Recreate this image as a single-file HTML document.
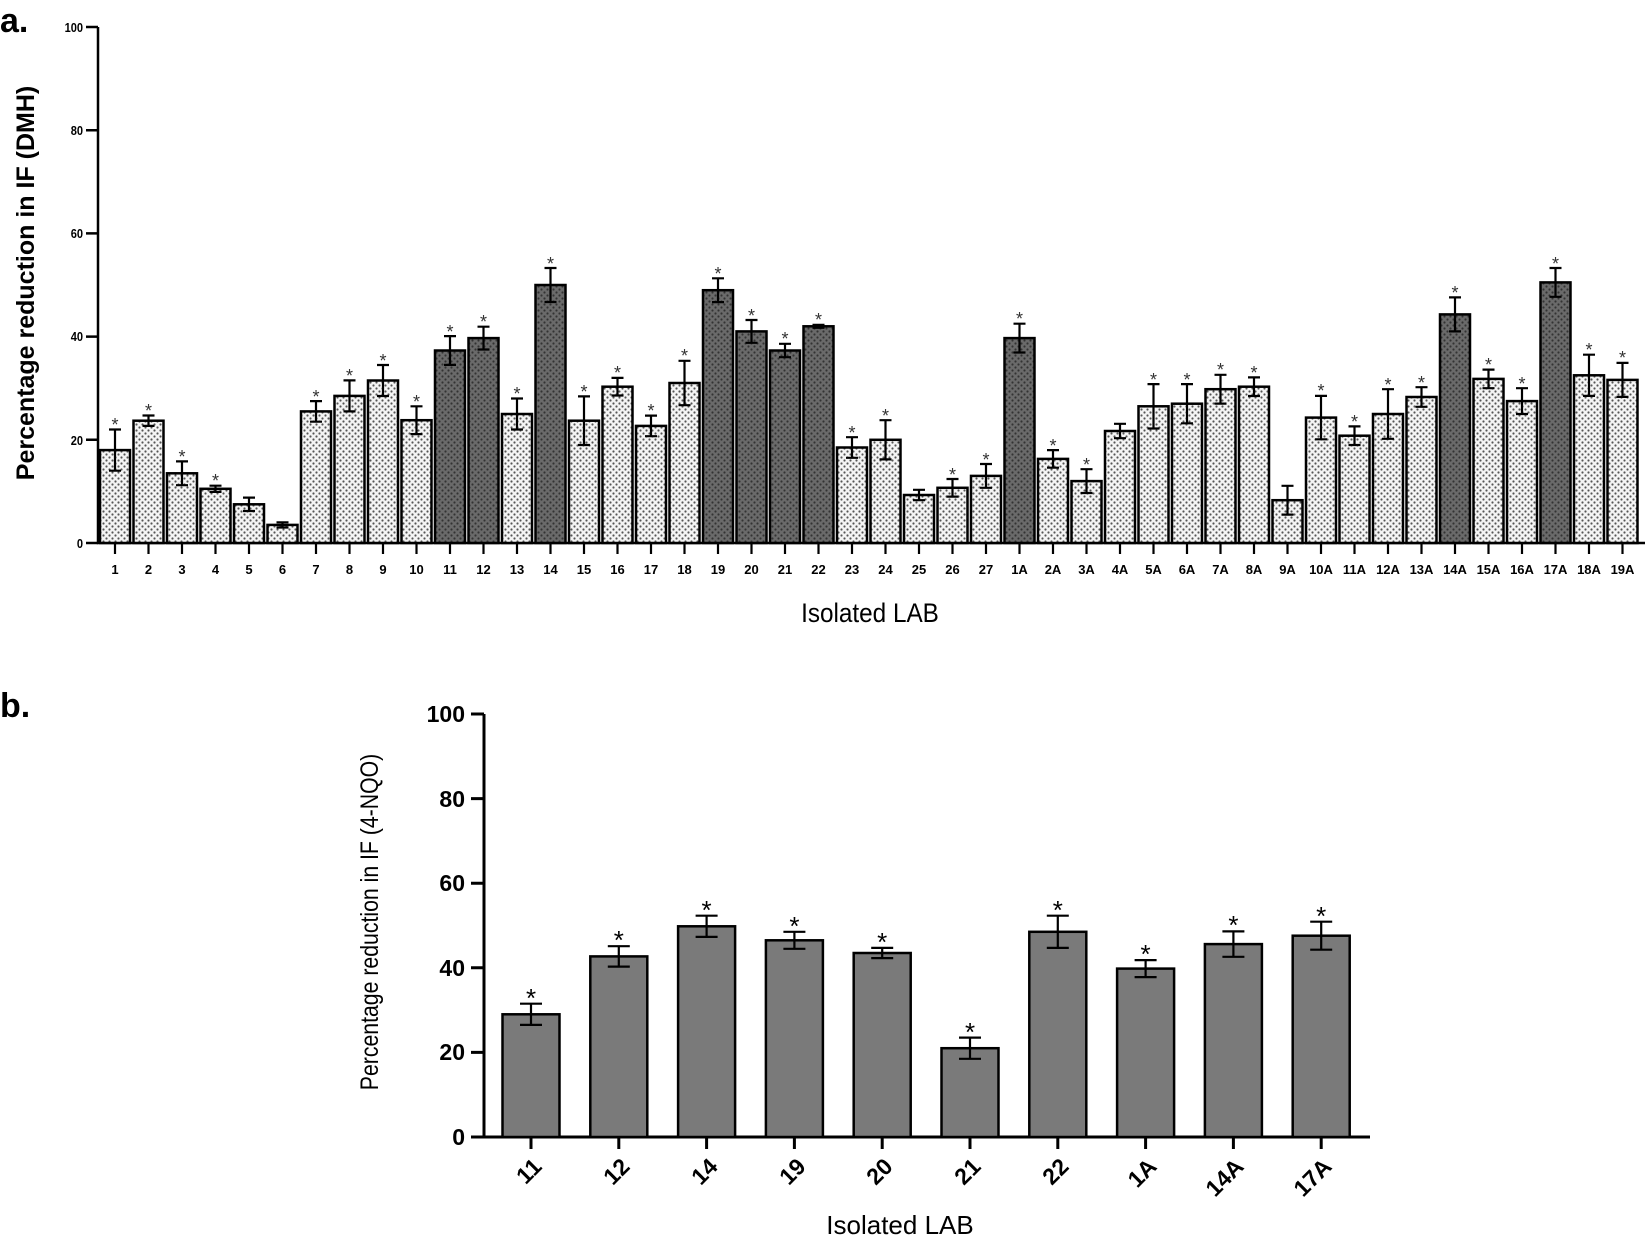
<!DOCTYPE html>
<html><head><meta charset="utf-8"><style>html,body{margin:0;padding:0;background:#fff;}svg{display:block}</style></head>
<body>
<svg width="1645" height="1237" viewBox="0 0 1645 1237" xmlns="http://www.w3.org/2000/svg" font-family="Liberation Sans, Arial, sans-serif">
<defs>
<pattern id="pl" width="6" height="6" patternUnits="userSpaceOnUse"><rect width="6" height="6" fill="#f4f4f4"/><circle cx="1.5" cy="1.5" r="1.1" fill="#555"/><circle cx="4.5" cy="4.5" r="1.1" fill="#555"/></pattern>
<pattern id="pd" width="6" height="6" patternUnits="userSpaceOnUse"><rect width="6" height="6" fill="#6a6a6a"/><circle cx="1.5" cy="1.5" r="1.1" fill="#333"/><circle cx="4.5" cy="4.5" r="1.1" fill="#333"/></pattern>
</defs>
<text x="0" y="32" font-family="Liberation Sans, sans-serif" font-weight="bold" font-size="34">a.</text>
<text x="0" y="717" font-family="Liberation Sans, sans-serif" font-weight="bold" font-size="34">b.</text>

<g stroke="#000" stroke-width="2.5" fill="none">
<path d="M98 27 V543 H1645"/>
<path d="M86 27 H98 M86 130.2 H98 M86 233.4 H98 M86 336.6 H98 M86 439.8 H98 M86 543 H98"/>
</g>
<g font-size="13" font-weight="bold" text-anchor="end" fill="#000">
<text x="83" y="32" transform="translate(83,0) scale(0.85,1) translate(-83,0)">100</text><text x="83" y="135" transform="translate(83,0) scale(0.85,1) translate(-83,0)">80</text><text x="83" y="238" transform="translate(83,0) scale(0.85,1) translate(-83,0)">60</text><text x="83" y="341" transform="translate(83,0) scale(0.85,1) translate(-83,0)">40</text><text x="83" y="445" transform="translate(83,0) scale(0.85,1) translate(-83,0)">20</text><text x="83" y="548" transform="translate(83,0) scale(0.85,1) translate(-83,0)">0</text>
</g>
<text transform="translate(34,283) rotate(-90)" text-anchor="middle" font-size="25" font-weight="bold">Percentage reduction in IF (DMH)</text>
<text x="870" y="622" text-anchor="middle" font-size="27" transform="translate(870,0) scale(0.9,1) translate(-870,0)">Isolated LAB</text>

<g stroke="#000" stroke-width="2.5">
<rect x="100" y="450.1" width="30" height="92.9" fill="url(#pl)"/>
<rect x="133.5" y="420.7" width="30" height="122.3" fill="url(#pl)"/>
<rect x="167" y="473.3" width="30" height="69.7" fill="url(#pl)"/>
<rect x="200.5" y="488.8" width="30" height="54.2" fill="url(#pl)"/>
<rect x="234" y="504.3" width="30" height="38.7" fill="url(#pl)"/>
<rect x="267.5" y="524.9" width="30" height="18.1" fill="url(#pl)"/>
<rect x="301" y="411.4" width="30" height="131.6" fill="url(#pl)"/>
<rect x="334.5" y="395.9" width="30" height="147.1" fill="url(#pl)"/>
<rect x="368" y="380.5" width="30" height="162.5" fill="url(#pl)"/>
<rect x="401.5" y="420.2" width="30" height="122.8" fill="url(#pl)"/>
<rect x="435" y="350.5" width="30" height="192.5" fill="url(#pd)"/>
<rect x="468.5" y="338.1" width="30" height="204.9" fill="url(#pd)"/>
<rect x="502" y="414" width="30" height="129" fill="url(#pl)"/>
<rect x="535.5" y="285" width="30" height="258" fill="url(#pd)"/>
<rect x="569" y="420.7" width="30" height="122.3" fill="url(#pl)"/>
<rect x="602.5" y="386.7" width="30" height="156.3" fill="url(#pl)"/>
<rect x="636" y="425.9" width="30" height="117.1" fill="url(#pl)"/>
<rect x="669.5" y="383" width="30" height="160" fill="url(#pl)"/>
<rect x="703" y="290.2" width="30" height="252.8" fill="url(#pd)"/>
<rect x="736.5" y="331.4" width="30" height="211.6" fill="url(#pd)"/>
<rect x="770" y="350.5" width="30" height="192.5" fill="url(#pd)"/>
<rect x="803.5" y="326.3" width="30" height="216.7" fill="url(#pd)"/>
<rect x="837" y="447.5" width="30" height="95.5" fill="url(#pl)"/>
<rect x="870.5" y="439.8" width="30" height="103.2" fill="url(#pl)"/>
<rect x="904" y="495" width="30" height="48" fill="url(#pl)"/>
<rect x="937.5" y="487.8" width="30" height="55.2" fill="url(#pl)"/>
<rect x="971" y="475.9" width="30" height="67.1" fill="url(#pl)"/>
<rect x="1004.5" y="338.1" width="30" height="204.9" fill="url(#pd)"/>
<rect x="1038" y="458.9" width="30" height="84.1" fill="url(#pl)"/>
<rect x="1071.5" y="481.1" width="30" height="61.9" fill="url(#pl)"/>
<rect x="1105" y="431" width="30" height="112" fill="url(#pl)"/>
<rect x="1138.5" y="406.3" width="30" height="136.7" fill="url(#pl)"/>
<rect x="1172" y="403.7" width="30" height="139.3" fill="url(#pl)"/>
<rect x="1205.5" y="389.2" width="30" height="153.8" fill="url(#pl)"/>
<rect x="1239" y="386.7" width="30" height="156.3" fill="url(#pl)"/>
<rect x="1272.5" y="500.2" width="30" height="42.8" fill="url(#pl)"/>
<rect x="1306" y="417.6" width="30" height="125.4" fill="url(#pl)"/>
<rect x="1339.5" y="435.7" width="30" height="107.3" fill="url(#pl)"/>
<rect x="1373" y="414" width="30" height="129" fill="url(#pl)"/>
<rect x="1406.5" y="397" width="30" height="146" fill="url(#pl)"/>
<rect x="1440" y="314.4" width="30" height="228.6" fill="url(#pd)"/>
<rect x="1473.5" y="378.9" width="30" height="164.1" fill="url(#pl)"/>
<rect x="1507" y="401.1" width="30" height="141.9" fill="url(#pl)"/>
<rect x="1540.5" y="282.4" width="30" height="260.6" fill="url(#pd)"/>
<rect x="1574" y="375.3" width="30" height="167.7" fill="url(#pl)"/>
<rect x="1607.5" y="379.9" width="30" height="163.1" fill="url(#pl)"/>
</g>
<g stroke="#000" stroke-width="2.2" fill="none">
<path d="M115 429.5V470.7M109 429.5H121M109 470.7H121"/>
<path d="M148.5 415.5V425.9M142.5 415.5H154.5M142.5 425.9H154.5"/>
<path d="M182 461.4V485.2M176 461.4H188M176 485.2H188"/>
<path d="M215.5 485.7V491.9M209.5 485.7H221.5M209.5 491.9H221.5"/>
<path d="M249 497.6V511M243 497.6H255M243 511H255"/>
<path d="M282.5 522.3V527.5M276.5 522.3H288.5M276.5 527.5H288.5"/>
<path d="M316 401.1V421.7M310 401.1H322M310 421.7H322"/>
<path d="M349.5 380.4V411.4M343.5 380.4H355.5M343.5 411.4H355.5"/>
<path d="M383 365V396M377 365H389M377 396H389"/>
<path d="M416.5 406.3V434.1M410.5 406.3H422.5M410.5 434.1H422.5"/>
<path d="M450 336.1V364.9M444 336.1H456M444 364.9H456"/>
<path d="M483.5 326.7V349.5M477.5 326.7H489.5M477.5 349.5H489.5"/>
<path d="M517 398.5V429.5M511 398.5H523M511 429.5H523"/>
<path d="M550.5 268V302M544.5 268H556.5M544.5 302H556.5"/>
<path d="M584 396.4V445M578 396.4H590M578 445H590"/>
<path d="M617.5 377.9V395.5M611.5 377.9H623.5M611.5 395.5H623.5"/>
<path d="M651 415.6V436.2M645 415.6H657M645 436.2H657"/>
<path d="M684.5 360.8V405.2M678.5 360.8H690.5M678.5 405.2H690.5"/>
<path d="M718 278.3V302.1M712 278.3H724M712 302.1H724"/>
<path d="M751.5 320V342.8M745.5 320H757.5M745.5 342.8H757.5"/>
<path d="M785 343.8V357.2M779 343.8H791M779 357.2H791"/>
<path d="M818.5 324.8V327.8M812.5 324.8H824.5M812.5 327.8H824.5"/>
<path d="M852 437.2V457.8M846 437.2H858M846 457.8H858"/>
<path d="M885.5 420.2V459.4M879.5 420.2H891.5M879.5 459.4H891.5"/>
<path d="M919 489.8V500.2M913 489.8H925M913 500.2H925"/>
<path d="M952.5 479V496.6M946.5 479H958.5M946.5 496.6H958.5"/>
<path d="M986 464V487.8M980 464H992M980 487.8H992"/>
<path d="M1019.5 323.7V352.5M1013.5 323.7H1025.5M1013.5 352.5H1025.5"/>
<path d="M1053 450.1V467.7M1047 450.1H1059M1047 467.7H1059"/>
<path d="M1086.5 469.2V493M1080.5 469.2H1092.5M1080.5 493H1092.5"/>
<path d="M1120 423.8V438.2M1114 423.8H1126M1114 438.2H1126"/>
<path d="M1153.5 384.1V428.5M1147.5 384.1H1159.5M1147.5 428.5H1159.5"/>
<path d="M1187 384.1V423.3M1181 384.1H1193M1181 423.3H1193"/>
<path d="M1220.5 374.8V403.6M1214.5 374.8H1226.5M1214.5 403.6H1226.5"/>
<path d="M1254 377.4V396M1248 377.4H1260M1248 396H1260"/>
<path d="M1287.5 485.8V514.6M1281.5 485.8H1293.5M1281.5 514.6H1293.5"/>
<path d="M1321 395.9V439.3M1315 395.9H1327M1315 439.3H1327"/>
<path d="M1354.5 426.4V445M1348.5 426.4H1360.5M1348.5 445H1360.5"/>
<path d="M1388 389.2V438.8M1382 389.2H1394M1382 438.8H1394"/>
<path d="M1421.5 387.2V406.8M1415.5 387.2H1427.5M1415.5 406.8H1427.5"/>
<path d="M1455 297.4V331.4M1449 297.4H1461M1449 331.4H1461"/>
<path d="M1488.5 369.6V388.2M1482.5 369.6H1494.5M1482.5 388.2H1494.5"/>
<path d="M1522 388.2V414M1516 388.2H1528M1516 414H1528"/>
<path d="M1555.5 268V296.8M1549.5 268H1561.5M1549.5 296.8H1561.5"/>
<path d="M1589 354.7V395.9M1583 354.7H1595M1583 395.9H1595"/>
<path d="M1622.5 362.9V396.9M1616.5 362.9H1628.5M1616.5 396.9H1628.5"/>
</g>
<g font-size="18" text-anchor="middle" fill="#333">
<text x="115" y="431">*</text><text x="148.5" y="417">*</text><text x="182" y="463">*</text><text x="215.5" y="487">*</text>
<text x="316" y="403">*</text><text x="349.5" y="382">*</text><text x="383" y="367">*</text><text x="416.5" y="408">*</text>
<text x="450" y="338">*</text><text x="483.5" y="328">*</text><text x="517" y="400">*</text><text x="550.5" y="270">*</text>
<text x="584" y="398">*</text><text x="617.5" y="379">*</text><text x="651" y="417">*</text><text x="684.5" y="362">*</text>
<text x="718" y="280">*</text><text x="751.5" y="322">*</text><text x="785" y="345">*</text><text x="818.5" y="326">*</text>
<text x="852" y="439">*</text><text x="885.5" y="422">*</text><text x="952.5" y="481">*</text><text x="986" y="466">*</text>
<text x="1019.5" y="325">*</text><text x="1053" y="452">*</text><text x="1086.5" y="471">*</text>
<text x="1153.5" y="386">*</text><text x="1187" y="386">*</text><text x="1220.5" y="376">*</text><text x="1254" y="379">*</text>
<text x="1321" y="397">*</text><text x="1354.5" y="428">*</text><text x="1388" y="391">*</text><text x="1421.5" y="389">*</text>
<text x="1455" y="299">*</text><text x="1488.5" y="371">*</text><text x="1522" y="390">*</text><text x="1555.5" y="270">*</text>
<text x="1589" y="356">*</text><text x="1622.5" y="364">*</text>
</g>
<g stroke="#000" stroke-width="2.2">
<path d="M115 543V554M148.5 543V554M182 543V554M215.5 543V554M249 543V554M282.5 543V554M316 543V554M349.5 543V554M383 543V554M416.5 543V554M450 543V554M483.5 543V554M517 543V554M550.5 543V554M584 543V554M617.5 543V554M651 543V554M684.5 543V554M718 543V554M751.5 543V554M785 543V554M818.5 543V554M852 543V554M885.5 543V554M919 543V554M952.5 543V554M986 543V554M1019.5 543V554M1053 543V554M1086.5 543V554M1120 543V554M1153.5 543V554M1187 543V554M1220.5 543V554M1254 543V554M1287.5 543V554M1321 543V554M1354.5 543V554M1388 543V554M1421.5 543V554M1455 543V554M1488.5 543V554M1522 543V554M1555.5 543V554M1589 543V554M1622.5 543V554"/>
</g>
<g font-size="13" font-weight="bold" text-anchor="middle">
<text x="115" y="574">1</text><text x="148.5" y="574">2</text><text x="182" y="574">3</text><text x="215.5" y="574">4</text><text x="249" y="574">5</text><text x="282.5" y="574">6</text><text x="316" y="574">7</text><text x="349.5" y="574">8</text><text x="383" y="574">9</text><text x="416.5" y="574">10</text><text x="450" y="574">11</text><text x="483.5" y="574">12</text><text x="517" y="574">13</text><text x="550.5" y="574">14</text><text x="584" y="574">15</text><text x="617.5" y="574">16</text><text x="651" y="574">17</text><text x="684.5" y="574">18</text><text x="718" y="574">19</text><text x="751.5" y="574">20</text><text x="785" y="574">21</text><text x="818.5" y="574">22</text><text x="852" y="574">23</text><text x="885.5" y="574">24</text><text x="919" y="574">25</text><text x="952.5" y="574">26</text><text x="986" y="574">27</text><text x="1019.5" y="574">1A</text><text x="1053" y="574">2A</text><text x="1086.5" y="574">3A</text><text x="1120" y="574">4A</text><text x="1153.5" y="574">5A</text><text x="1187" y="574">6A</text><text x="1220.5" y="574">7A</text><text x="1254" y="574">8A</text><text x="1287.5" y="574">9A</text><text x="1321" y="574">10A</text><text x="1354.5" y="574">11A</text><text x="1388" y="574">12A</text><text x="1421.5" y="574">13A</text><text x="1455" y="574">14A</text><text x="1488.5" y="574">15A</text><text x="1522" y="574">16A</text><text x="1555.5" y="574">17A</text><text x="1589" y="574">18A</text><text x="1622.5" y="574">19A</text>
</g>

<g stroke="#000" stroke-width="3" fill="none">
<path d="M484 714 V1137 H1370"/>
<path d="M471 714H484M471 798.6H484M471 883.2H484M471 967.8H484M471 1052.4H484M471 1137H484"/>
</g>
<g font-size="23" font-weight="bold" text-anchor="end">
<text x="465" y="722">100</text><text x="465" y="807">80</text><text x="465" y="891">60</text><text x="465" y="976">40</text><text x="465" y="1060">20</text><text x="465" y="1145">0</text>
</g>
<text transform="translate(378,922) rotate(-90) scale(0.85,1)" text-anchor="middle" font-size="25">Percentage reduction in IF (4-NQO)</text>
<text x="900" y="1234" text-anchor="middle" font-size="26">Isolated LAB</text>
<g stroke="#000" stroke-width="2.5" fill="#7a7a7a">
<rect x="502.5" y="1014.3" width="57" height="122.7"/>
<rect x="590.3" y="956.4" width="57" height="180.6"/>
<rect x="678.1" y="926.3" width="57" height="210.7"/>
<rect x="765.9" y="940.3" width="57" height="196.7"/>
<rect x="853.7" y="953" width="57" height="184"/>
<rect x="941.5" y="1048.2" width="57" height="88.8"/>
<rect x="1029.3" y="931.8" width="57" height="205.2"/>
<rect x="1117.1" y="968.6" width="57" height="168.4"/>
<rect x="1204.9" y="944.1" width="57" height="192.9"/>
<rect x="1292.7" y="935.7" width="57" height="201.3"/>
</g>
<g stroke="#000" stroke-width="2.2" fill="none">
<path d="M531 1003.7V1024.9M520 1003.7H542M520 1024.9H542"/>
<path d="M618.8 946.2V966.6M607.8 946.2H629.8M607.8 966.6H629.8"/>
<path d="M706.6 915.7V936.9M695.6 915.7H717.6M695.6 936.9H717.6"/>
<path d="M794.4 931.8V948.8M783.4 931.8H805.4M783.4 948.8H805.4"/>
<path d="M882.2 947.9V958.1M871.2 947.9H893.2M871.2 958.1H893.2"/>
<path d="M970 1037.6V1058.8M959 1037.6H981M959 1058.8H981"/>
<path d="M1057.8 915.7V947.9M1046.8 915.7H1068.8M1046.8 947.9H1068.8"/>
<path d="M1145.6 960.1V977.1M1134.6 960.1H1156.6M1134.6 977.1H1156.6"/>
<path d="M1233.4 931.4V956.8M1222.4 931.4H1244.4M1222.4 956.8H1244.4"/>
<path d="M1321.2 921.7V949.7M1310.2 921.7H1332.2M1310.2 949.7H1332.2"/>
<path stroke-width="3" d="M531 1137V1149M618.8 1137V1149M706.6 1137V1149M794.4 1137V1149M882.2 1137V1149M970 1137V1149M1057.8 1137V1149M1145.6 1137V1149M1233.4 1137V1149M1321.2 1137V1149"/>
</g>
<g font-size="26" text-anchor="middle">
<text x="531" y="1007">*</text><text x="618.8" y="949">*</text><text x="706.6" y="919">*</text><text x="794.4" y="935">*</text><text x="882.2" y="951">*</text><text x="970" y="1041">*</text><text x="1057.8" y="919">*</text><text x="1145.6" y="963">*</text><text x="1233.4" y="934">*</text><text x="1321.2" y="925">*</text>
</g>
<g font-size="23" font-weight="bold" text-anchor="end">
<text transform="translate(543,1168) rotate(-45)">11</text>
<text transform="translate(631,1168) rotate(-45)">12</text>
<text transform="translate(719,1168) rotate(-45)">14</text>
<text transform="translate(807,1168) rotate(-45)">19</text>
<text transform="translate(894,1168) rotate(-45)">20</text>
<text transform="translate(982,1168) rotate(-45)">21</text>
<text transform="translate(1070,1168) rotate(-45)">22</text>
<text transform="translate(1158,1168) rotate(-45)">1A</text>
<text transform="translate(1245,1168) rotate(-45)">14A</text>
<text transform="translate(1333,1168) rotate(-45)">17A</text>
</g>
</svg>
</body></html>
